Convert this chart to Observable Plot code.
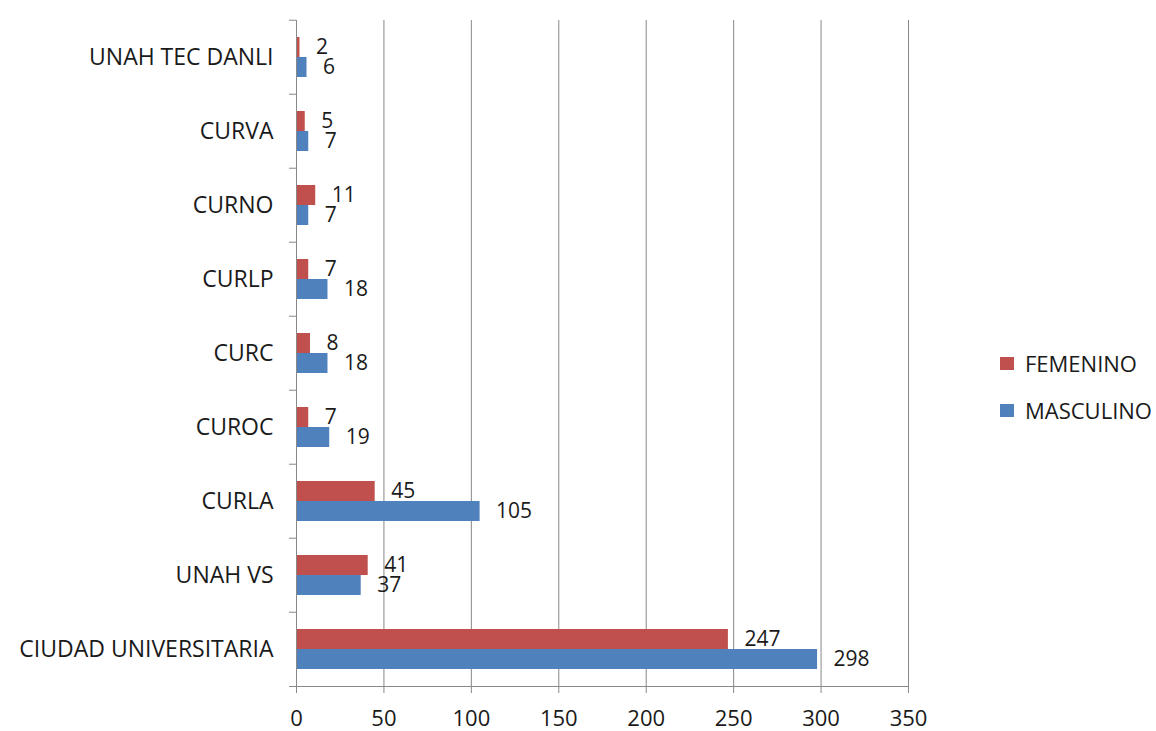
<!DOCTYPE html>
<html>
<head>
<meta charset="utf-8">
<script src="https://cdn.jsdelivr.net/npm/d3@7"></script>
<script src="https://cdn.jsdelivr.net/npm/@observablehq/plot@0.6"></script>
<style>
  html, body { margin: 0; padding: 0; background: #fff; }
  #wrap { position: relative; width: 1156px; height: 731px; font-family: "Open Sans", sans-serif; }
  #legend { position: absolute; left: 1000px; top: 347px; font-size: 22px; color: #1a1a1a; }
  #legend .item { display: flex; align-items: center; height: 32px; margin-bottom: 15px; }
  #legend .sw { width: 14px; height: 13px; margin-right: 11px; }
</style>
</head>
<body>
<div id="wrap"><div id="legend"></div></div>
<script>
const categories = ["UNAH TEC DANLI", "CURVA", "CURNO", "CURLP", "CURC", "CUROC", "CURLA", "UNAH VS", "CIUDAD UNIVERSITARIA"];
const femenino = [2, 5, 11, 7, 8, 7, 45, 41, 247];
const masculino = [6, 7, 7, 18, 18, 19, 105, 37, 298];
const series = ["FEMENINO", "MASCULINO"];
const seriesColors = ["#C0504D", "#4F81BD"];
const xTicks = [0, 50, 100, 150, 200, 250, 300, 350];

const rows = [];
categories.forEach((c, i) => {
  rows.push({category: c, series: series[0], value: femenino[i]});
  rows.push({category: c, series: series[1], value: masculino[i]});
});

const plotHeight = 731, marginTop = 17, marginBottom = 43;
const band = (plotHeight - marginTop - marginBottom) / categories.length;

const chart = Plot.plot({
  width: 1156,
  height: plotHeight,
  marginLeft: 296,
  marginRight: 248,
  marginTop,
  marginBottom,
  style: {fontFamily: "Open Sans, sans-serif", fontSize: "22px", color: "#1a1a1a", background: "#fff"},
  x: {domain: [0, 350], ticks: xTicks},
  fy: {domain: categories, padding: 0},
  y: {domain: series, paddingInner: 0, paddingOuter: 0.81, axis: null},
  color: {domain: series, range: seriesColors},
  marks: [
    Plot.gridX(xTicks.slice(1), {stroke: "#888", strokeOpacity: 1, strokeWidth: 1}),
    Plot.barX(rows, {x: "value", y: "series", fy: "category", fill: "series"}),
    Plot.text(rows, {x: "value", y: "series", fy: "category", text: d => String(d.value), textAnchor: "start", dx: 16, fontSize: 21, fill: "#1a1a1a"}),
    Plot.ruleX([0], {stroke: "#888", strokeWidth: 1}),
    Plot.frame({anchor: "bottom", facetAnchor: "bottom", stroke: "#888", insetLeft: -7}),
    Plot.axisFy({anchor: "left", tickSize: 0, tickPadding: 23, label: null, fontSize: 23, letterSpacing: 0.9, fill: "#1a1a1a"}),
    Plot.axisFy({anchor: "left", tickSize: 7, text: null, label: null, stroke: "#888", dy: -band / 2}),
    Plot.axisX({ticks: xTicks, tickSize: 7, tickPadding: 17, label: null, stroke: "#888", fontSize: 22, fill: "#1a1a1a"})
  ]
});

const wrap = document.getElementById("wrap");
wrap.insertBefore(chart, wrap.firstChild);

const legend = document.getElementById("legend");
series.forEach((s, i) => {
  const item = document.createElement("div");
  item.className = "item";
  const sw = document.createElement("span");
  sw.className = "sw";
  sw.style.background = seriesColors[i];
  const t = document.createElement("span");
  t.textContent = s;
  item.appendChild(sw);
  item.appendChild(t);
  legend.appendChild(item);
});
</script>
</body>
</html>
